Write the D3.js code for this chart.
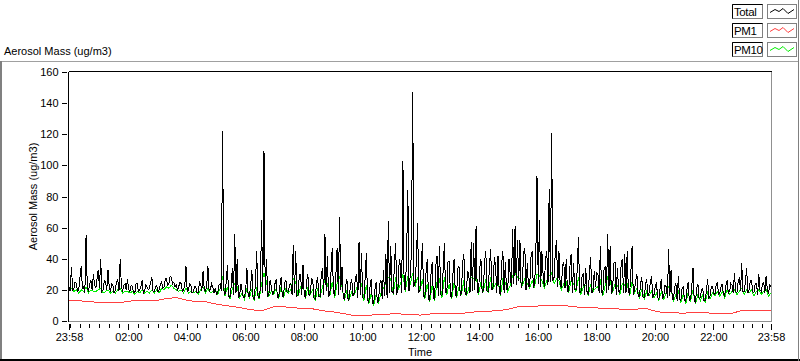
<!DOCTYPE html>
<html><head><meta charset="utf-8">
<script src="https://cdnjs.cloudflare.com/ajax/libs/d3/7.8.5/d3.min.js"></script>
<style>
html,body{margin:0;padding:0;background:#fff;}
svg{display:block;font-family:"Liberation Sans",Arial,sans-serif;}
</style></head>
<body>
<svg id="chart" width="800" height="361"></svg>
<script>
// ---------- DATA ----------
const seriesNames = ["Total", "PM1", "PM10"];
const seriesColors = ["#000000", "#ff4040", "#00ee00"];

// Total: readings every 2.5 minutes from 23:58 to 23:58 next day (one row per hour)
const totalValues = [
 22,19,35,20,21,25,24,19,20,28,35,21,22,18,55,22,19,24,26,20,30,23,21,27,
 33,21,40,19,20,26,25,20,33,22,19,24,23,18,20,25,27,19,40,22,19,23,24,20,
 27,20,19,23,22,18,18,24,24,19,20,22,26,18,19,23,22,20,21,25,28,19,19,22,
 23,19,20,24,25,21,22,27,27,23,24,29,28,24,25,22,23,20,22,25,24,19,20,23,
 35,19,20,24,23,18,19,22,22,18,18,25,24,19,32,20,19,23,35,19,20,24,22,18,
 21,17,18,23,24,19,122,20,17,25,36,16,15,22,34,17,56,18,40,15,16,24,20,15,
 15,20,34,16,16,22,33,15,14,24,45,16,15,21,65,18,109,19,40,16,17,26,22,17,
 18,24,27,15,15,22,28,16,16,25,26,18,19,23,24,17,49,18,45,16,17,30,30,17,
 36,17,15,26,30,16,18,27,26,15,14,24,28,16,16,30,34,17,56,19,42,16,17,32,
 47,18,16,30,47,17,67,20,35,15,14,22,27,13,15,24,27,16,18,28,30,15,51,17,
 44,15,14,28,44,13,12,22,27,11,11,20,25,12,13,24,26,14,33,16,43,15,64,18,
 48,19,18,36,50,17,22,40,35,18,103,20,20,42,84,19,30,45,147,22,25,38,63,18,
 20,35,50,16,15,32,40,14,13,30,38,15,14,36,42,16,48,17,16,33,50,18,18,38,
 38,16,15,30,40,17,16,34,35,16,18,38,43,17,17,32,30,18,51,19,50,20,61,18,
 18,34,40,18,20,38,45,19,19,36,46,20,22,41,35,18,42,19,17,37,45,18,38,20,
 20,40,30,22,59,24,61,23,52,26,52,21,25,44,47,20,37,22,22,41,45,21,24,39,
 93,24,65,22,45,30,22,40,45,23,85,25,121,26,28,44,52,22,45,24,21,36,38,21,
 40,19,19,35,43,18,37,20,20,33,54,18,18,29,30,17,34,19,17,31,41,18,20,32,
 22,31,30,18,48,19,17,33,35,18,56,20,48,18,19,37,38,17,34,19,18,36,40,18,
 43,18,45,19,17,31,48,17,20,26,30,16,16,24,28,15,15,23,27,16,18,25,29,15,
 17,22,25,15,14,21,27,14,16,23,22,15,46,16,33,14,14,22,24,13,29,14,13,21,
 22,14,12,20,25,13,14,22,34,13,12,21,24,14,15,20,21,13,13,19,27,15,16,22,
 22,18,17,23,25,17,18,22,24,17,16,23,26,18,19,24,23,18,31,19,18,25,28,19,
 37,19,19,25,34,18,20,26,26,19,18,24,24,17,30,20,19,24,25,18,29,20,18,23,22
];

// PM10: readings every 5 minutes from 23:58
const pm10Values = [
 20,21,19,20,18,20,19,22,18,20,19,19,
 20,21,18,19,20,18,19,18,20,21,18,19,
 19,18,19,17,19,18,20,18,19,18,20,18,
 20,18,21,20,22,21,23,21,20,19,20,18,
 21,18,19,18,19,17,20,22,18,21,18,19,
 20,17,21,29,16,22,14,21,24,22,15,18,
 14,21,15,20,13,22,14,24,31,25,16,19,
 17,21,14,22,15,21,18,20,27,25,16,22,
 24,14,22,17,20,13,21,15,22,26,24,16,
 25,15,24,28,22,13,20,14,19,17,21,26,
 24,13,23,11,18,10,17,12,18,21,24,28,
 27,17,28,20,24,30,19,29,23,31,22,28,
 19,27,14,24,12,23,13,25,27,15,28,17,
 24,14,25,15,22,17,26,16,21,28,27,30,
 17,25,19,27,18,28,21,24,26,16,27,25,
 19,23,29,31,28,27,23,27,24,21,26,22,
 30,29,26,21,26,29,31,24,27,26,20,24,
 25,18,26,24,19,28,17,22,23,16,24,19,
 21,22,26,16,23,28,26,18,24,23,17,24,
 23,24,16,25,18,21,15,20,14,19,16,19,
 15,18,13,19,14,18,22,20,13,17,19,12,
 17,11,18,13,20,11,17,13,17,12,18,14,
 18,16,19,16,19,15,20,17,19,20,17,19,
 21,17,20,18,20,16,19,20,17,19,20,16,18
];

// PM1: readings every 20 minutes from 23:58
const pm1Values = [
 13,13,12.5,12,11.7,11.7,12.5,13.4,13.4,13.2,
 14.5,15,13.5,12.5,12.4,11,10,9.2,8,7,
 7,9.2,9.2,8.5,8.1,7.8,6.6,6,4.9,3.8,
 3.8,3.8,4.2,4.5,4.5,4.2,3.8,4.5,4.5,4.5,
 4.5,5.5,6,6.3,6.6,7.5,9,9.2,9.6,9.8,
 10,9.8,9,8.9,8.5,8,8,7.3,7.3,8.3,
 6.6,5.3,5.3,5,5.5,5.5,4.9,4.9,4.9,6.8,
 7,7,6.4
];

const yTicks = [0, 20, 40, 60, 80, 100, 120, 140, 160];
const xTickLabels = ["23:58","02:00","04:00","06:00","08:00","10:00","12:00","14:00","16:00","18:00","20:00","22:00","23:58"];
const chartTitle = "Aerosol Mass (ug/m3)";
const yTitle = "Aerosol Mass (ug/m3)";
const xTitle = "Time";

// ---------- CHART ----------
const svg = d3.select("#chart");
const t0 = new Date(2000, 0, 1, 23, 58);
const t1 = new Date(2000, 0, 2, 23, 58);
const spanMin = 1440;
const L = 68.5, R = 771.5, T = 71.5, B = 321.5;

const x = d3.scaleTime().domain([t0, t1]).range([L + 0.5, R - 0.5]);
const y = d3.scaleLinear().domain([0, 160]).range([B - 0.5, T + 0.5]);

// outer panel
svg.append("line").attr("x1",0).attr("x2",798).attr("y1",61.5).attr("y2",61.5).attr("stroke","#a0a0a0").attr("stroke-width",1);
svg.append("line").attr("x1",1).attr("x2",1).attr("y1",61).attr("y2",361).attr("stroke","#808080").attr("stroke-width",2);
svg.append("line").attr("x1",0).attr("x2",800).attr("y1",360).attr("y2",360).attr("stroke","#000").attr("stroke-width",2);
svg.append("line").attr("x1",798.5).attr("x2",798.5).attr("y1",0).attr("y2",361).attr("stroke","#808080").attr("stroke-width",1);

// title
svg.append("text").attr("x",4).attr("y",55).attr("font-size",11).text(chartTitle);

// plot frame (sunken look)
svg.append("line").attr("x1",R).attr("x2",R).attr("y1",T).attr("y2",B).attr("stroke","#909090").attr("shape-rendering","crispEdges");
svg.append("line").attr("x1",L).attr("x2",R).attr("y1",B).attr("y2",B).attr("stroke","#909090").attr("shape-rendering","crispEdges");

svg.append("defs").append("clipPath").attr("id","clip").append("rect")
  .attr("x",L).attr("y",T).attr("width",R-L).attr("height",B-T);
const plot = svg.append("g").attr("clip-path","url(#clip)");

const lineFor = (arr) => {
  const step = spanMin / (arr.length - 1);
  return d3.line()
    .x((d, i) => x(new Date(t0.getTime() + i * step * 60000)))
    .y(d => y(d))(arr);
};

plot.append("path").attr("d", lineFor(pm10Values))
  .attr("fill","none").attr("stroke",seriesColors[2]).attr("stroke-width",1).attr("shape-rendering","crispEdges");
plot.append("path").attr("d", lineFor(pm1Values))
  .attr("fill","none").attr("stroke",seriesColors[1]).attr("stroke-width",1).attr("shape-rendering","crispEdges");
plot.append("path").attr("d", lineFor(totalValues))
  .attr("fill","none").attr("stroke",seriesColors[0]).attr("stroke-width",1).attr("shape-rendering","crispEdges");

// frame top/left black
svg.append("line").attr("x1",L).attr("x2",R).attr("y1",T).attr("y2",T).attr("stroke","#000").attr("shape-rendering","crispEdges");
svg.append("line").attr("x1",L).attr("x2",L).attr("y1",T).attr("y2",B).attr("stroke","#000").attr("shape-rendering","crispEdges");

// y axis
const yAxis = d3.axisLeft(y).tickValues(yTicks).tickSize(5).tickPadding(3).tickFormat(d3.format("d"));
const gy = svg.append("g").attr("transform",`translate(${L-2},0)`).call(yAxis);
gy.select(".domain").remove();
gy.selectAll("text").attr("font-size",11).attr("font-family","Liberation Sans, Arial, sans-serif").attr("fill","#000");
gy.selectAll("line").attr("shape-rendering","crispEdges");

// x axis: minor ticks every 20 minutes, labelled majors
const minorTicks = d3.timeMinute.every(20).range(t0, d3.timeMinute.offset(t1, 1));
const majorTickTimes = xTickLabels.map((lab, k) => k === 0 ? t0 : (k === xTickLabels.length - 1 ? t1 : new Date(2000, 0, 2, 2 * k, 0)));
const gxMinor = svg.append("g").attr("transform",`translate(0,${B+2})`)
  .call(d3.axisBottom(x).tickValues(minorTicks).tickSize(4).tickFormat(""));
gxMinor.select(".domain").remove();
gxMinor.selectAll("line").attr("shape-rendering","crispEdges");

const gx = svg.append("g").attr("transform",`translate(0,${B+2})`)
  .call(d3.axisBottom(x).tickValues(majorTickTimes).tickSize(6).tickPadding(4)
    .tickFormat((d, i) => xTickLabels[i]));
gx.select(".domain").remove();
gx.selectAll("line").attr("shape-rendering","crispEdges");
gx.selectAll("text").attr("font-size",11).attr("font-family","Liberation Sans, Arial, sans-serif").attr("fill","#000");

// axis titles
svg.append("text").attr("x",(L+R)/2).attr("y",356).attr("text-anchor","middle").attr("font-size",11).text(xTitle);
svg.append("text").attr("transform",`translate(37,${(T+B)/2}) rotate(-90)`).attr("text-anchor","middle").attr("font-size",11).text(yTitle);

// legend
seriesNames.forEach((name, k) => {
  const g = svg.append("g").attr("transform",`translate(0,${4.5 + k * 19})`);
  g.append("rect").attr("x",732.5).attr("y",0).attr("width",30).attr("height",14).attr("fill","#fff").attr("stroke","#808080");
  g.append("path").attr("d","M732.5,14V0H762.5").attr("fill","none").attr("stroke","#000");
  g.append("text").attr("x",734).attr("y",11.5).attr("font-size",11.5).attr("letter-spacing",-0.4).text(name);
  g.append("rect").attr("x",767.5).attr("y",0).attr("width",29).attr("height",14).attr("fill","#fff").attr("stroke","#808080");
  g.append("path").attr("d","M770,8 L775,5 L779,7 L783,4 L788,9 L794,5")
    .attr("fill","none").attr("stroke",seriesColors[k]).attr("stroke-width",1);
});
</script>
</body></html>
